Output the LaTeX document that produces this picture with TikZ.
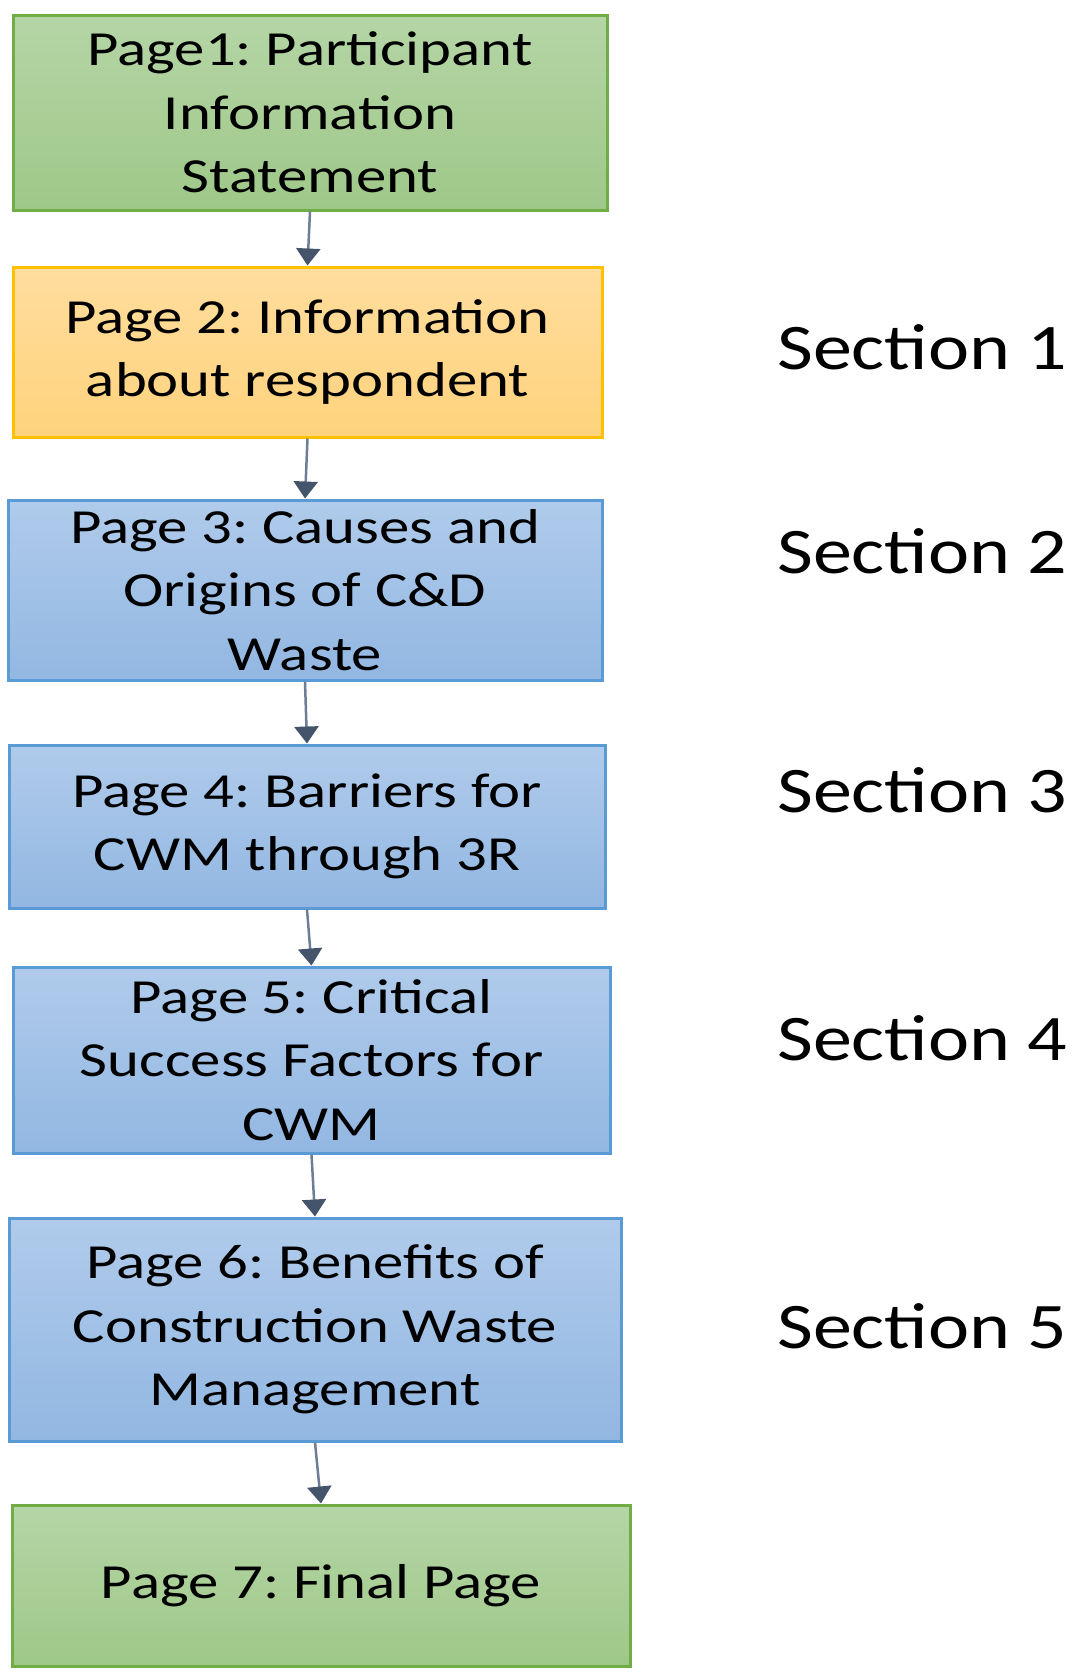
\documentclass[tikz,border=0pt]{standalone}
\usepackage{fontspec}
\setmainfont{Carlito}
\newfontfamily\boxfont{Carlito}[FakeStretch=1.24]
\newfontfamily\secfont{Carlito}[FakeStretch=1.20]
\usetikzlibrary{arrows.meta}
\definecolor{grnborder}{RGB}{112,173,71}
\definecolor{grntop}{RGB}{181,213,166}
\definecolor{grnbot}{RGB}{158,200,136}
\definecolor{orgborder}{RGB}{255,192,0}
\definecolor{orgtop}{RGB}{255,221,157}
\definecolor{orgbot}{RGB}{255,211,125}
\definecolor{bluborder}{RGB}{91,155,213}
\definecolor{blutop}{RGB}{176,203,235}
\definecolor{blubot}{RGB}{146,183,226}
\definecolor{arrline}{RGB}{110,125,150}
\definecolor{arrhead}{RGB}{68,84,106}
\frenchspacing
\begin{document}
\begin{tikzpicture}[x=1pt,y=-1pt,
  pagebox/.style={draw, line width=3pt, inner sep=0pt, align=center,
    font=\boxfont\fontsize{49}{63.5}\selectfont, text=black},
  greenbox/.style={pagebox, draw=grnborder, top color=grntop, bottom color=grnbot},
  orangebox/.style={pagebox, draw=orgborder, top color=orgtop, bottom color=orgbot},
  bluebox/.style={pagebox, draw=bluborder, top color=blutop, bottom color=blubot},
  flow/.style={line width=2.5pt, draw=arrline,
    -{Triangle[width=24pt,length=17pt,color=arrhead,fill=arrhead]}},
  sec/.style={anchor=base west, inner sep=0pt, text=black,
    font=\secfont\fontsize{65}{78}\selectfont}]
\useasboundingbox (0,0) rectangle (1075,1679);

\node[greenbox, minimum width=594pt, minimum height=195pt] (p1) at (310,112.5)
  {Page1: Participant\\Information\\Statement};
\node[orangebox, minimum width=589pt, minimum height=170pt] (p2) at (307.5,352)
  {Page 2: Information\\about respondent};
\node[bluebox, minimum width=594pt, minimum height=180pt] (p3) at (305,590)
  {Page 3: Causes and\\Origins of C\&D\\Waste};
\node[bluebox, minimum width=596pt, minimum height=163pt] (p4) at (307,826.5)
  {Page 4: Barriers for\\CWM through 3R};
\node[bluebox, minimum width=597pt, minimum height=186pt] (p5) at (311.5,1060)
  {Page 5: Critical\\Success Factors for\\CWM};
\node[bluebox, minimum width=612pt, minimum height=223pt] (p6) at (315,1329.5)
  {Page 6: Benefits of\\Construction Waste\\Management};
\node[greenbox, minimum width=618pt, minimum height=161pt] (p7) at (321,1585.5)
  {Page 7: Final Page};

\draw[flow] (p1.south) -- (p2.north);
\draw[flow] (p2.south) -- (p3.north);
\draw[flow] (p3.south) -- (p4.north);
\draw[flow] (p4.south) -- (p5.north);
\draw[flow] (p5.south) -- (p6.north);
\draw[flow] (p6.south) -- (p7.north);

\node[sec] (s1) at (777,369) {Section 1};
\node[sec] (s2) at (777,573) {Section 2};
\node[sec] (s3) at (777,812) {Section 3};
\node[sec] (s4) at (777,1060) {Section 4};
\node[sec] (s5) at (777,1348) {Section 5};
\end{tikzpicture}
\end{document}
